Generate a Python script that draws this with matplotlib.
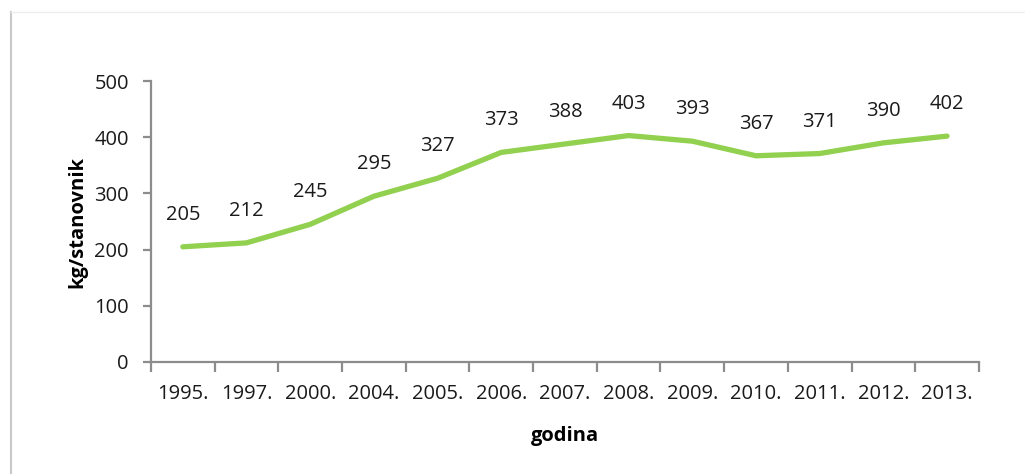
import matplotlib.pyplot as plt
import numpy as np
from matplotlib.lines import Line2D

years = ["1995.", "1997.", "2000.", "2004.", "2005.", "2006.", "2007.",
         "2008.", "2009.", "2010.", "2011.", "2012.", "2013."]
values = [205, 212, 245, 295, 327, 373, 388, 403, 393, 367, 371, 390, 402]

plt.rcParams['font.family'] = ['Open Sans', 'DejaVu Sans']
grey = '#8c8c8c'
fs = 14.5

fig = plt.figure(figsize=(10.25, 4.74), dpi=100)
ax = fig.add_axes([0.1473, 0.2363, 0.955 - 0.1473, 0.829 - 0.2363])

x = np.arange(len(years))
ax.plot(x, values, color='#92D050', lw=3.8, solid_capstyle='round',
        solid_joinstyle='round')
for xi, v in zip(x, values):
    ax.annotate(str(v), (xi, v), xytext=(0, 23), textcoords='offset points',
                ha='center', va='center', fontsize=fs, color='#1a1a1a')

ax.set_xlim(-0.5, len(years) - 0.5)
ax.set_ylim(0, 500)
ax.set_yticks(range(0, 501, 100))
ax.set_xticks(x)
ax.set_xticklabels(years)
ax.set_xticks(np.arange(-0.5, len(years)), minor=True)
ax.tick_params(axis='x', which='major', length=0, pad=16, labelsize=fs,
               labelcolor='#1a1a1a')
ax.tick_params(axis='x', which='minor', length=7, width=1.6, color=grey)
ax.tick_params(axis='y', length=6, width=1.6, color=grey, pad=10,
               labelsize=fs, labelcolor='#1a1a1a')
for s in ['top', 'right']:
    ax.spines[s].set_visible(False)
for s in ['left', 'bottom']:
    ax.spines[s].set_color(grey)
    ax.spines[s].set_linewidth(1.6)

ax.set_ylabel('kg/stanovnik', fontsize=fs, fontweight='bold', labelpad=5)
ax.set_xlabel('godina', fontsize=fs, fontweight='bold', labelpad=16)

# outer frame
fig.add_artist(Line2D([11 / 1025, 11 / 1025], [0, 1 - 12 / 474],
                      transform=fig.transFigure, color='#c8c8c8', lw=1.5))
fig.add_artist(Line2D([11 / 1025, 1], [1 - 12 / 474, 1 - 12 / 474],
                      transform=fig.transFigure, color='#eeeeee', lw=1))

fig.savefig('out.png', dpi=100)
